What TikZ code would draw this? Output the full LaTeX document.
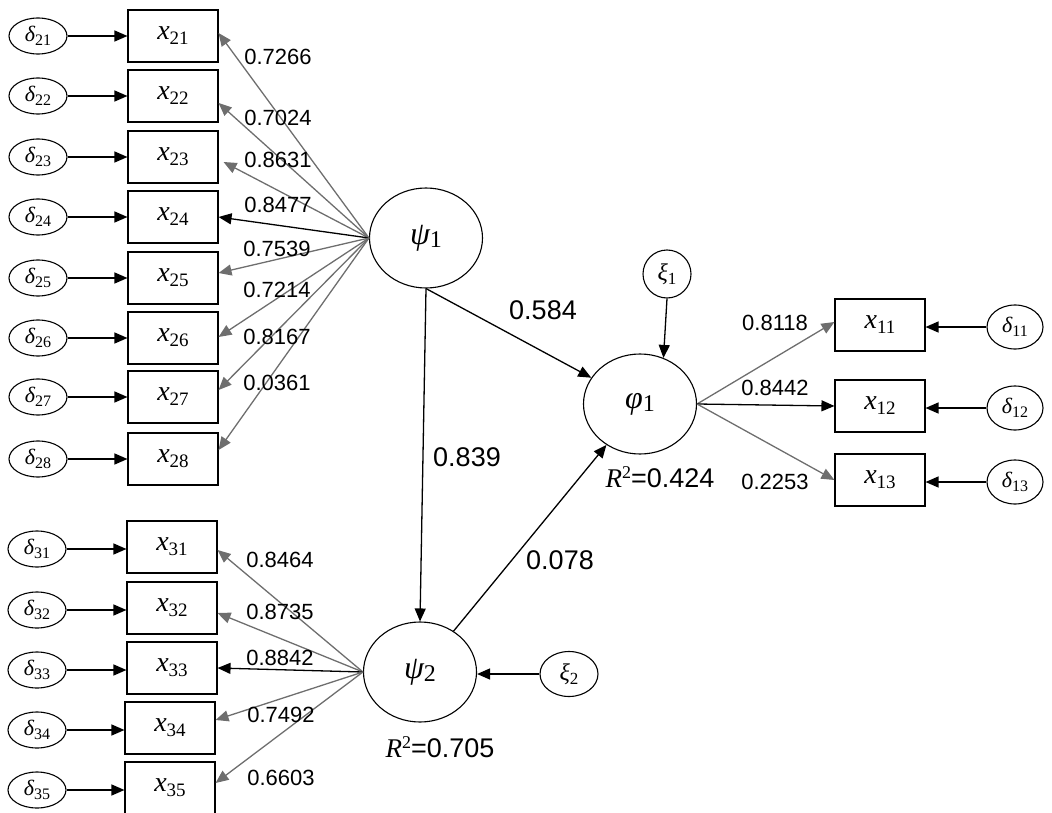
\documentclass[tikz,border=0pt]{standalone}
\usepackage{fontspec}
\setmainfont{Liberation Sans}
\newfontfamily\tms{Liberation Serif}
\usetikzlibrary{arrows.meta,shapes.geometric,calc}
\definecolor{mygray}{RGB}{110,110,110}
% #1 base size, #2 symbol, #3 sub size, #4 subscript, #5 drop (pt)
\newcommand\lab[5]{{\tms\itshape\fontsize{#1}{#1}\selectfont #2}\raisebox{-#5pt}{\tms\fontsize{#3}{#3}\selectfont #4}}
\begin{document}
\begin{tikzpicture}[x=1pt,y=-1pt,
  err/.style={ellipse,draw,line width=1.1pt,minimum width=58pt,minimum height=36pt,inner sep=0pt},
  obs/.style={rectangle,draw,line width=1.1pt,minimum width=90pt,minimum height=52pt,inner sep=0pt},
  lat/.style={ellipse,draw,line width=1.1pt,minimum width=113pt,minimum height=100pt,inner sep=0pt},
  arr/.style={-{Triangle[length=13pt,width=11pt]},line width=1.3pt},
  garr/.style={arr,draw=mygray},
  num/.style={inner sep=0pt,font=\fontsize{22}{24}\selectfont},
  bignum/.style={inner sep=0pt,font=\fontsize{27}{30}\selectfont}]
\useasboundingbox (0,0) rectangle (1052,813);
% left upper block
\foreach \i/\yy in {21/36,22/96,23/157,24/217,25/278,26/338,27/397,28/459}{
  \node[err] (d\i) at (38,\yy) {\lab{22}{δ}{16}{\i}{4}};
  \node[obs] (x\i) at (173,\yy) {\lab{28}{x}{19}{\i}{5}};
  \draw[arr] (d\i) -- (x\i);
}
% left lower block
\foreach \i/\x/\yy in {31/172/547,32/172/608,33/172/668,34/170/728,35/170/788}{
  \node[err] (d\i) at (37,\yy+2) {\lab{22}{δ}{16}{\i}{4}};
  \node[obs] (x\i) at (\x,\yy) {\lab{28}{x}{19}{\i}{5}};
  \draw[arr] (d\i) -- (x\i.west |- d\i);
}
% latent variables
\node[lat] (psi1) at (426,238) {\lab{32}{ψ}{24}{1}{3}};
\node[lat] (phi1) at (640,404) {\lab{32}{φ}{24}{1}{3}};
\node[lat] (psi2) at (420,672) {\lab{32}{ψ}{24}{2}{3}};
\node[circle,draw,line width=1.1pt,minimum size=48pt,inner sep=0pt] (xi1) at (667,274) {\lab{24}{ξ}{17}{1}{4}};
\node[err,minimum width=58pt,minimum height=45pt] (xi2) at (569,674) {\lab{24}{ξ}{17}{2}{4}};
% right block
\foreach \i/\yy in {11/325,12/406,13/480}{
  \node[obs] (x\i) at (880,\yy) {\lab{28}{x}{19}{\i}{5}};
  \node[err,minimum width=56pt,minimum height=44pt] (d\i) at (1015,\yy+2) {\lab{22}{δ}{16}{\i}{4}};
  \draw[arr] (d\i) -- (x\i.east |- d\i);
}
% psi1 loadings
\draw[garr] (psi1.west) -- ($(x21.east)+(0,-3)$);
\draw[garr] (psi1.west) -- ($(x22.east)+(0,7)$);
\draw[garr] (psi1.west) -- ($(x23.east)+(5,5)$);
\draw[arr]  (psi1.west) -- (x24.east);
\draw[garr] (psi1.west) -- ($(x25.east)+(0,-5)$);
\draw[garr] (psi1.west) -- ($(x26.east)+(0,-1)$);
\draw[garr] (psi1.west) -- ($(x27.east)+(0,-7)$);
\draw[garr] (psi1.west) -- ($(x28.east)+(0,-9)$);
\foreach \t/\x/\y in {0.7266/278/57,0.7024/278/118,0.8631/278/160,0.8477/278/205,0.7539/277/249,0.7214/277/290,0.8167/277/337,0.0361/277/383}
  \node[num] at (\x,\y) {\t};
% psi2 loadings
\draw[garr] (psi2.west) -- ($(x31.east)+(0,3)$);
\draw[garr] (psi2.west) -- ($(x32.east)+(0,5)$);
\draw[arr]  (psi2.west) -- (x33.east);
\draw[garr] (psi2.west) -- ($(x34.east)+(0,-8)$);
\draw[garr] (psi2.west) -- ($(x35.east)+(0,-5)$);
\foreach \t/\x/\y in {0.8464/280/560,0.8735/280/612,0.8842/280/658,0.7492/281/715,0.6603/281/778}
  \node[num] at (\x,\y) {\t};
% phi1 loadings
\draw[garr] (phi1.east) -- ($(x11.west)+(0,-3)$);
\draw[arr]  (phi1.east) -- (x12.west);
\draw[garr] (phi1.east) -- (x13.west);
\node[num] at (775,323) {0.8118};
\node[num] at (775,388) {0.8442};
\node[num] at (775,482) {0.2253};
% structural paths
\draw[arr] (psi1.south) -- (phi1);
\draw[arr] (psi1.south) -- (psi2.north);
\draw[arr] (psi2) -- (phi1);
\draw[arr] (xi1.south) -- (phi1.63);
\draw[arr] (xi2.west) -- (psi2.east |- xi2);
\node[bignum] at (543,310) {0.584};
\node[bignum] at (467,457) {0.839};
\node[bignum] at (560,560) {0.078};
\node[bignum] at (660,477) {{\tms\itshape R}\raisebox{9pt}{\tms\fontsize{18}{18}\selectfont 2}=0.424};
\node[bignum] at (440,747) {{\tms\itshape R}\raisebox{9pt}{\tms\fontsize{18}{18}\selectfont 2}=0.705};
\end{tikzpicture}
\end{document}
